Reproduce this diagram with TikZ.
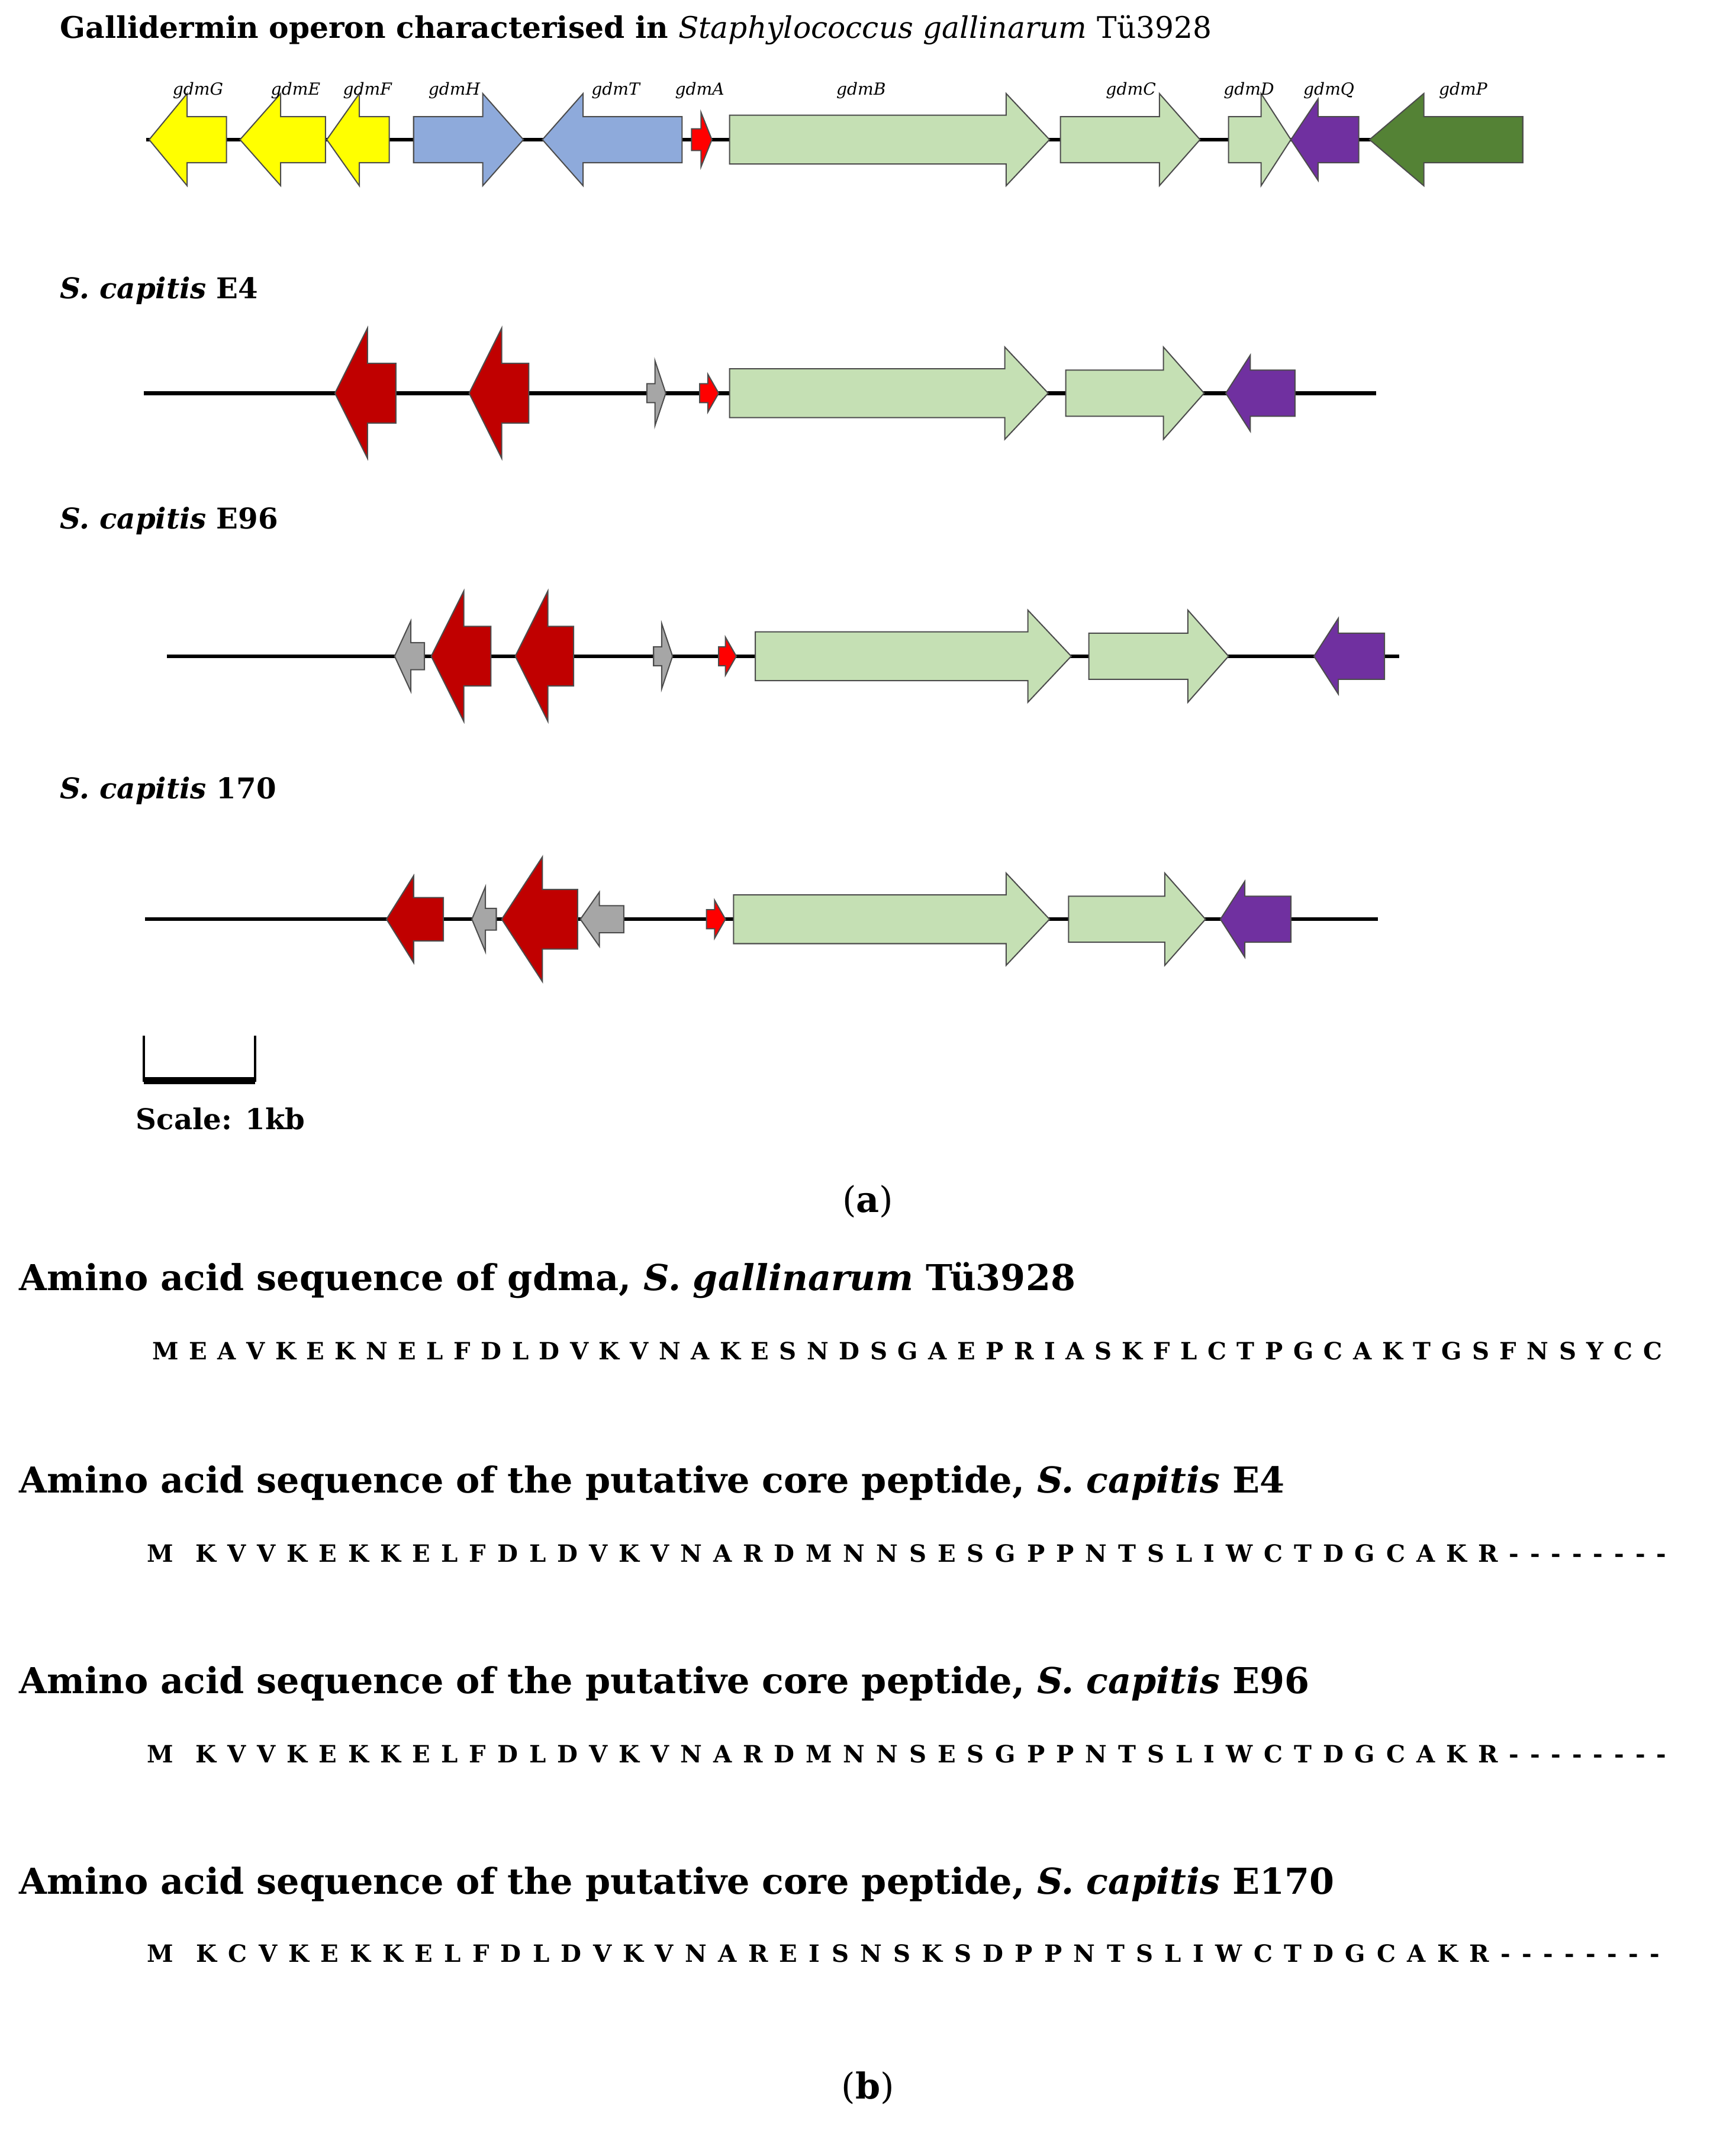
\documentclass[tikz,border=0pt]{standalone}
\usepackage{fontspec}
\setmainfont{DejaVu Serif}
\begin{document}
\begin{tikzpicture}[x=0.02cm,y=-0.02cm,
  gene/.style={draw=black!70,line width=0.5pt},
  bb/.style={line width=1.6pt},
  lab/.style={font=\fontsize{7}{8}\selectfont\itshape,anchor=base},
  hd/.style={anchor=base west,font=\fontsize{15}{18}\selectfont\bfseries,inner sep=0},
  sq/.style={anchor=base west,font=\fontsize{10}{12}\selectfont\bfseries,inner sep=0},
  rl/.style={anchor=base west,font=\fontsize{12}{15}\selectfont\bfseries,inner sep=0}]
\definecolor{gy}{HTML}{FFFF00}\definecolor{gb}{HTML}{8EAADB}\definecolor{gg}{HTML}{C5E0B4}
\definecolor{gp}{HTML}{7030A0}\definecolor{gd}{HTML}{548235}\definecolor{gr}{HTML}{C00000}
\definecolor{ga}{HTML}{A6A6A6}\definecolor{gf}{HTML}{FF0000}
\newcommand\gR[7]{\filldraw[gene,fill=#7] (#1,#3-#4)--(#2-#6,#3-#4)--(#2-#6,#3-#5)--(#2,#3)--(#2-#6,#3+#5)--(#2-#6,#3+#4)--(#1,#3+#4)--cycle;}
\newcommand\gL[7]{\filldraw[gene,fill=#7] (#2,#3-#4)--(#1+#6,#3-#4)--(#1+#6,#3-#5)--(#1,#3)--(#1+#6,#3+#5)--(#1+#6,#3+#4)--(#2,#3+#4)--cycle;}
\useasboundingbox (0,0) rectangle (1280,1588);
\node[rl,font=\fontsize{12.5}{15}\selectfont\bfseries] at (44,28) {Gallidermin operon characterised in \textit{\mdseries Staphylococcus gallinarum} \textmd{Tü3928}};
% row 1
\draw[bb] (108,103)--(1123,103);
\gL{110}{167}{103}{17}{34}{28}{gy}
\gL{177}{240}{103}{17}{34}{30}{gy}
\gL{241}{287}{103}{17}{34}{24}{gy}
\gR{305}{386}{103}{17}{34}{30}{gb}
\gL{400}{503}{103}{17}{34}{30}{gb}
\gR{510}{525}{103}{8}{20}{8}{gf}
\gR{538}{774}{103}{18}{34}{32}{gg}
\gR{782}{885}{103}{17}{34}{30}{gg}
\gR{906}{952}{103}{17}{34}{22}{gg}
\gL{952}{1002}{103}{17}{30}{20}{gp}
\gL{1010}{1123}{103}{17}{34}{40}{gd}
\foreach \x/\t in {146/gdmG,218/gdmE,271/gdmF,335/gdmH,454/gdmT,516/gdmA,635/gdmB,834/gdmC,921/gdmD,980/gdmQ,1079/gdmP}
  \node[lab] at (\x,70) {\t};
% row 2
\node[rl] at (44,220) {\textit{S. capitis} E4};
\draw[bb] (106,290)--(1015,290);
\gL{247}{292}{290}{22}{48}{24}{gr}
\gL{346}{390}{290}{22}{48}{24}{gr}
\gR{477}{491}{290}{7}{24}{8}{ga}
\gR{516}{530}{290}{7}{14}{8}{gf}
\gR{538}{773}{290}{18}{34}{32}{gg}
\gR{786}{888}{290}{17}{34}{30}{gg}
\gL{904}{955}{290}{17}{28}{18}{gp}
% row 3
\node[rl] at (44,390) {\textit{S. capitis} E96};
\draw[bb] (123,484)--(1032,484);
\gL{291}{313}{484}{10}{26}{12}{ga}
\gL{318}{362}{484}{22}{48}{24}{gr}
\gL{380}{423}{484}{22}{48}{24}{gr}
\gR{482}{496}{484}{7}{24}{8}{ga}
\gR{530}{543}{484}{7}{14}{8}{gf}
\gR{557}{790}{484}{18}{34}{32}{gg}
\gR{803}{906}{484}{17}{34}{30}{gg}
\gL{969}{1021}{484}{17}{28}{18}{gp}
% row 4
\node[rl] at (44,589) {\textit{S. capitis} 170};
\draw[bb] (107,678)--(1016,678);
\gL{285}{327}{678}{16}{32}{20}{gr}
\gL{348}{366}{678}{8}{24}{10}{ga}
\gL{370}{426}{678}{22}{46}{30}{gr}
\gL{428}{460}{678}{10}{20}{14}{ga}
\gR{521}{535}{678}{7}{14}{8}{gf}
\gR{541}{774}{678}{18}{34}{32}{gg}
\gR{788}{889}{678}{17}{34}{30}{gg}
\gL{900}{952}{678}{17}{28}{18}{gp}
% scale
\draw[line width=1pt] (106,764)--(106,798) (188,764)--(188,798);
\draw[line width=3pt] (106,797)--(188,797);
\node[rl] at (100,833) {Scale: 1kb};
\node[anchor=base,font=\fontsize{15}{18}\selectfont] at (640,894) {(\textbf{a})};
% sequences
\node[hd] at (14,952) {Amino acid sequence of gdma, \textit{S. gallinarum} Tü3928};
\node[sq] at (112,1003) {\spaceskip=0.435em M E A V K E K N E L F D L D V K V N A K E S N D S G A E P R I A S K F L C T P G C A K T G S F N S Y C C};
\node[hd] at (14,1101) {Amino acid sequence of the putative core peptide, \textit{S. capitis} E4};
\node[sq] at (108,1152) {\spaceskip=0.47em M\ \ K V V K E K K E L F D L D V K V N A R D M N N S E S G P P N T S L I W C T D G C A K R - - - - - - - -};
\node[hd] at (14,1249) {Amino acid sequence of the putative core peptide, \textit{S. capitis} E96};
\node[sq] at (108,1300) {\spaceskip=0.47em M\ \ K V V K E K K E L F D L D V K V N A R D M N N S E S G P P N T S L I W C T D G C A K R - - - - - - - -};
\node[hd] at (14,1397) {Amino acid sequence of the putative core peptide, \textit{S. capitis} E170};
\node[sq] at (108,1447) {\spaceskip=0.48em M\ \ K C V K E K K E L F D L D V K V N A R E I S N S K S D P P N T S L I W C T D G C A K R - - - - - - - -};
\node[anchor=base,font=\fontsize{15}{18}\selectfont] at (640,1548) {(\textbf{b})};
\end{tikzpicture}
\end{document}
